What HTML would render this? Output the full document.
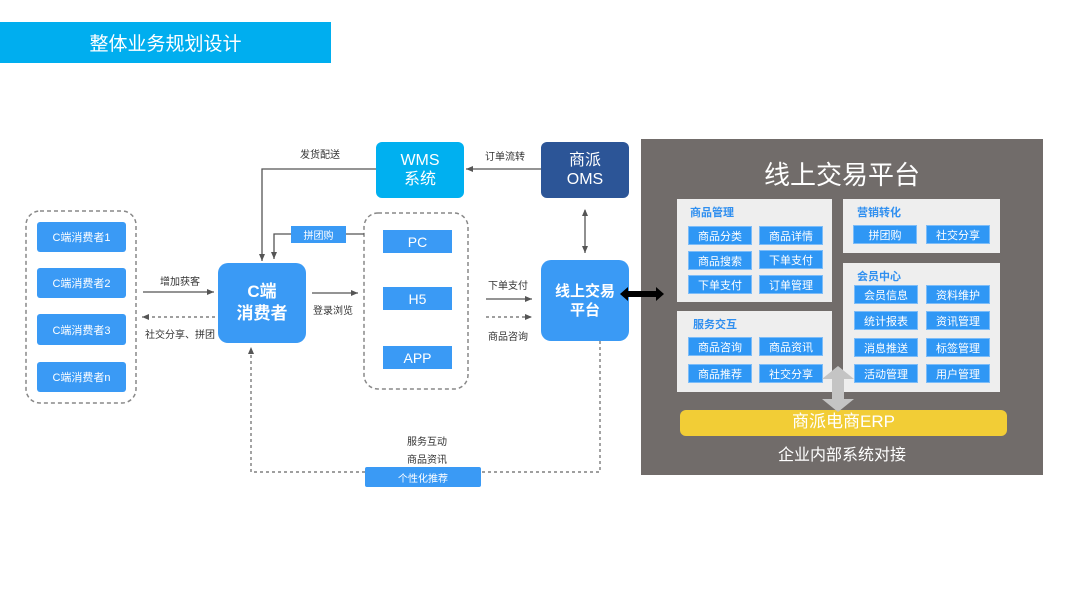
<!DOCTYPE html>
<html><head><meta charset="utf-8"><style>
*{margin:0;padding:0;box-sizing:border-box}
body{width:1080px;height:608px;background:#fff;position:relative;overflow:hidden;font-family:"Liberation Sans","Noto Sans CJK SC",sans-serif}
.a{position:absolute}
.b{position:absolute;background:#3a9af5;color:#fff;display:flex;align-items:center;justify-content:center;text-align:center}
.t{position:absolute;font-size:10px;color:#333;white-space:nowrap}
.p{position:absolute;background:#eeeeee}
.pt{position:absolute;font-size:11px;font-weight:bold;color:#2f8ff0}
.i{position:absolute;background:#2f97f5;color:#fff;font-size:11px;width:64px;height:19px;display:flex;align-items:center;justify-content:center;border:1px solid #7cbcf8}
</style></head><body>
<div class="a" style="left:0;top:22px;width:331px;height:41px;background:#00aeef;color:#fff;font-size:19px;display:flex;align-items:center;justify-content:center">整体业务规划设计</div>

<svg class="a" style="left:0;top:0" width="1080" height="608">
<defs>
<marker id="m" markerWidth="8" markerHeight="8" refX="7" refY="4" orient="auto" markerUnits="userSpaceOnUse"><path d="M0,1 L7,4 L0,7z" fill="#555"/></marker>
<marker id="ms" markerWidth="8" markerHeight="8" refX="1" refY="4" orient="auto" markerUnits="userSpaceOnUse"><path d="M7,1 L0,4 L7,7z" fill="#555"/></marker>
</defs>
<g fill="none" stroke="#888" stroke-width="1.5" stroke-dasharray="4,3">
<rect x="26" y="211" width="110" height="192" rx="14"/>
<rect x="364" y="213" width="104" height="176" rx="14"/>
</g>
<g fill="none" stroke="#555" stroke-width="1.3">
<polyline points="376,169 262,169 262,261" marker-end="url(#m)"/>
<line x1="541" y1="169" x2="466" y2="169" marker-end="url(#m)"/>
<line x1="585" y1="210" x2="585" y2="253" marker-start="url(#ms)" marker-end="url(#m)"/>
<line x1="364" y1="234" x2="346" y2="234"/>
<polyline points="291,234 274,234 274,259" marker-end="url(#m)"/>
<line x1="143" y1="292" x2="214" y2="292" marker-end="url(#m)"/>
<line x1="312" y1="293" x2="358" y2="293" marker-end="url(#m)"/>
<line x1="486" y1="299" x2="532" y2="299" marker-end="url(#m)"/>
</g>
<g fill="none" stroke="#666" stroke-width="1.2" stroke-dasharray="3,3">
<line x1="215" y1="317" x2="142" y2="317" marker-end="url(#m)"/>
<line x1="486" y1="317" x2="532" y2="317" marker-end="url(#m)"/>
<polyline points="600,341 600,472 251,472 251,347" marker-end="url(#m)"/>
</g>
</svg>

<div class="t" style="left:300px;top:146px">发货配送</div>
<div class="t" style="left:485px;top:148px">订单流转</div>
<div class="t" style="left:160px;top:273px">增加获客</div>
<div class="t" style="left:145px;top:326px">社交分享、拼团</div>
<div class="t" style="left:313px;top:302px">登录浏览</div>
<div class="t" style="left:488px;top:277px">下单支付</div>
<div class="t" style="left:488px;top:328px">商品咨询</div>
<div class="t" style="left:407px;top:433px">服务互动</div>
<div class="t" style="left:407px;top:451px">商品资讯</div>

<div class="b" style="left:37px;top:222px;width:89px;height:30px;font-size:11px;border-radius:3px">C端消费者1</div>
<div class="b" style="left:37px;top:268px;width:89px;height:30px;font-size:11px;border-radius:3px">C端消费者2</div>
<div class="b" style="left:37px;top:314px;width:89px;height:31px;font-size:11px;border-radius:3px">C端消费者3</div>
<div class="b" style="left:37px;top:362px;width:89px;height:30px;font-size:11px;border-radius:3px">C端消费者n</div>

<div class="b" style="left:218px;top:263px;width:88px;height:80px;border-radius:10px;font-size:17px;font-weight:bold;line-height:22px">C端<br>消费者</div>
<div class="b" style="left:376px;top:142px;width:88px;height:56px;border-radius:6px;background:#00b0f0;font-size:16px;line-height:19px">WMS<br>系统</div>
<div class="b" style="left:541px;top:142px;width:88px;height:56px;border-radius:6px;background:#2c5597;font-size:16px;line-height:19px">商派<br>OMS</div>
<div class="b" style="left:541px;top:260px;width:88px;height:81px;border-radius:10px;font-size:15px;font-weight:bold;line-height:19px">线上交易<br>平台</div>

<div class="b" style="left:291px;top:226px;width:55px;height:17px;font-size:10px">拼团购</div>
<div class="b" style="left:383px;top:230px;width:69px;height:23px;font-size:14px">PC</div>
<div class="b" style="left:383px;top:287px;width:69px;height:23px;font-size:14px">H5</div>
<div class="b" style="left:383px;top:346px;width:69px;height:23px;font-size:14px">APP</div>
<div class="b" style="left:365px;top:467px;width:116px;height:20px;font-size:10px;border-radius:2px">个性化推荐</div>

<div class="a" style="left:641px;top:139px;width:402px;height:336px;background:#716c6a"></div>
<div class="a" style="left:641px;top:155px;width:402px;text-align:center;color:#fff;font-size:26px">线上交易平台</div>
<div class="p" style="left:677px;top:199px;width:155px;height:103px"></div>
<div class="p" style="left:843px;top:199px;width:157px;height:54px"></div>
<div class="p" style="left:843px;top:263px;width:157px;height:129px"></div>
<div class="p" style="left:677px;top:311px;width:155px;height:81px"></div>
<div class="pt" style="left:690px;top:204px">商品管理</div>
<div class="pt" style="left:857px;top:204px">营销转化</div>
<div class="pt" style="left:857px;top:268px">会员中心</div>
<div class="pt" style="left:693px;top:316px">服务交互</div>

<div class="i" style="left:688px;top:226px">商品分类</div>
<div class="i" style="left:759px;top:226px">商品详情</div>
<div class="i" style="left:688px;top:251px">商品搜索</div>
<div class="i" style="left:759px;top:250px">下单支付</div>
<div class="i" style="left:688px;top:275px">下单支付</div>
<div class="i" style="left:759px;top:275px">订单管理</div>

<div class="i" style="left:853px;top:225px">拼团购</div>
<div class="i" style="left:926px;top:225px">社交分享</div>

<div class="i" style="left:854px;top:285px">会员信息</div>
<div class="i" style="left:926px;top:285px">资料维护</div>
<div class="i" style="left:854px;top:311px">统计报表</div>
<div class="i" style="left:926px;top:311px">资讯管理</div>
<div class="i" style="left:854px;top:338px">消息推送</div>
<div class="i" style="left:926px;top:338px">标签管理</div>
<div class="i" style="left:854px;top:364px">活动管理</div>
<div class="i" style="left:926px;top:364px">用户管理</div>

<div class="i" style="left:688px;top:337px">商品咨询</div>
<div class="i" style="left:759px;top:337px">商品资讯</div>
<div class="i" style="left:688px;top:364px">商品推荐</div>
<div class="i" style="left:759px;top:364px">社交分享</div>

<div class="a" style="left:680px;top:410px;width:327px;height:26px;background:#f2cd36;border-radius:6px;color:#fff;font-size:17px;text-align:center;line-height:24px">商派电商ERP</div>
<svg class="a" style="left:820px;top:366px" width="36" height="46"><path d="M18,0 L34,13 L24,13 L24,33 L34,33 L18,46 L2,33 L12,33 L12,13 L2,13z" fill="#c4c4c4"/></svg>
<div class="a" style="left:641px;top:441px;width:402px;text-align:center;color:#fff;font-size:16px">企业内部系统对接</div>

<svg class="a" style="left:618px;top:286px" width="48" height="16"><path d="M2,8 L10,1 L10,5 L38,5 L38,1 L46,8 L38,15 L38,11 L10,11 L10,15z" fill="#000"/></svg>
</body></html>
